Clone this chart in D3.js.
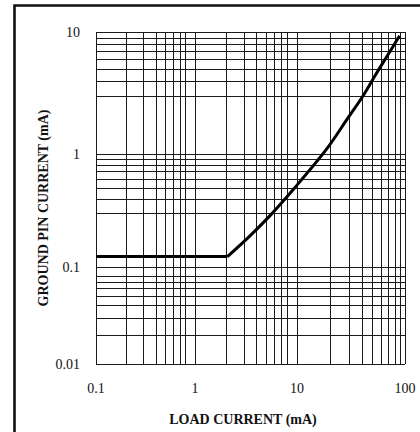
<!DOCTYPE html>
<meta charset="utf-8">
<title>Ground pin current</title>
<style>
  body { margin: 0; background: #fff; }
  text { font-family: "Liberation Serif", "DejaVu Serif", serif; fill: #111; }
</style>
<body>
<script src="https://d3js.org/d3.v7.min.js"></script>
<script>

// load current (mA) vs ground pin current (mA)
var loadCurrent = [0.1, 2.08];
var groundFlat = [0.123, 0.123];
var curveLoad = [2.08, 3.46, 5.44, 9.55, 19, 29, 40.8, 55, 72.6, 89];
var curveGround = [0.123, 0.188, 0.284, 0.504, 1.11, 1.92, 2.99, 4.66, 6.92, 9.3];

// axis decades and grid lines
var xDecades = [0.1, 1, 10, 100];
var yDecades = [0.01, 0.1, 1, 10];
var xTickLabels = ["0.1", "1", "10", "100"];
var yTickLabels = ["0.01", "0.1", "1", "10"];
var xGrid = [0.2, 0.3, 0.4, 0.5, 0.6, 0.7, 0.8,
             2, 3, 4, 5, 6, 7, 8,
             20, 30, 40, 50, 60, 70, 80, 90];
var yGrid = [0.02, 0.03, 0.04, 0.05, 0.06, 0.07, 0.08,
             0.3, 0.4, 0.5, 0.6, 0.7, 0.8, 0.9,
             3, 4, 5, 6, 7, 8, 9];

var width = 420;
var height = 432;

var svg = d3.select("body")
  .append("svg")
  .attr("width", width)
  .attr("height", height);

// the printed chart has uneven decades, so the log scales are piecewise
var x = d3.scaleLog()
  .domain(xDecades)
  .range([96, 195, 297, 405]);

var y = d3.scaleLog()
  .domain(yDecades)
  .range([364, 266.7, 154, 32]);

// outer frame (only top and left edges are in view)
svg.append("path")
  .attr("d", "M14.5,432V5.5H420")
  .attr("fill", "none")
  .attr("stroke", "#111")
  .attr("stroke-width", 2.6);

var grid = svg.append("g")
  .attr("stroke", "#1a1a1a")
  .attr("stroke-width", 1)
  .attr("shape-rendering", "crispEdges");

grid.selectAll(".vx")
  .data(xGrid.concat(xDecades))
  .enter().append("line")
  .attr("x1", function(d) { return Math.round(x(d)) + 0.5; })
  .attr("x2", function(d) { return Math.round(x(d)) + 0.5; })
  .attr("y1", y(10))
  .attr("y2", y(0.01));

grid.selectAll(".hy")
  .data(yGrid.concat(yDecades))
  .enter().append("line")
  .attr("y1", function(d) { return Math.round(y(d)) + 0.5; })
  .attr("y2", function(d) { return Math.round(y(d)) + 0.5; })
  .attr("x1", x(0.1))
  .attr("x2", x(100));

// tick labels
svg.selectAll(".xl")
  .data(xDecades)
  .enter().append("text")
  .attr("x", function(d) { return x(d); })
  .attr("y", 388)
  .attr("dy", ".35em")
  .attr("text-anchor", "middle")
  .style("font-size", "14px")
  .text(function(d, i) { return xTickLabels[i]; });

svg.selectAll(".yl")
  .data(yDecades)
  .enter().append("text")
  .attr("x", 80)
  .attr("y", function(d) { return y(d); })
  .attr("dy", ".35em")
  .attr("text-anchor", "end")
  .style("font-size", "14px")
  .text(function(d, i) { return yTickLabels[i]; });

// axis titles
svg.append("text")
  .attr("x", 243)
  .attr("y", 419)
  .attr("dy", ".35em")
  .attr("text-anchor", "middle")
  .style("font-size", "14px")
  .style("font-weight", "bold")
  .text("LOAD CURRENT (mA)");

svg.append("text")
  .attr("transform", "translate(43,208) rotate(-90)")
  .attr("dy", ".35em")
  .attr("text-anchor", "middle")
  .style("font-size", "14px")
  .style("font-weight", "bold")
  .text("GROUND PIN CURRENT (mA)");

// the curve: flat part then rising part
var line = d3.line()
  .x(function(d) { return x(d[0]); })
  .y(function(d) { return y(d[1]); });

svg.append("path")
  .attr("d", line(d3.zip(loadCurrent, groundFlat)))
  .attr("fill", "none")
  .attr("stroke", "#000")
  .attr("stroke-width", 3);

svg.append("path")
  .attr("d", line.curve(d3.curveCatmullRom.alpha(0.5))(d3.zip(curveLoad, curveGround)))
  .attr("fill", "none")
  .attr("stroke", "#000")
  .attr("stroke-width", 3)
  .attr("stroke-linejoin", "round");

</script>
</body>
